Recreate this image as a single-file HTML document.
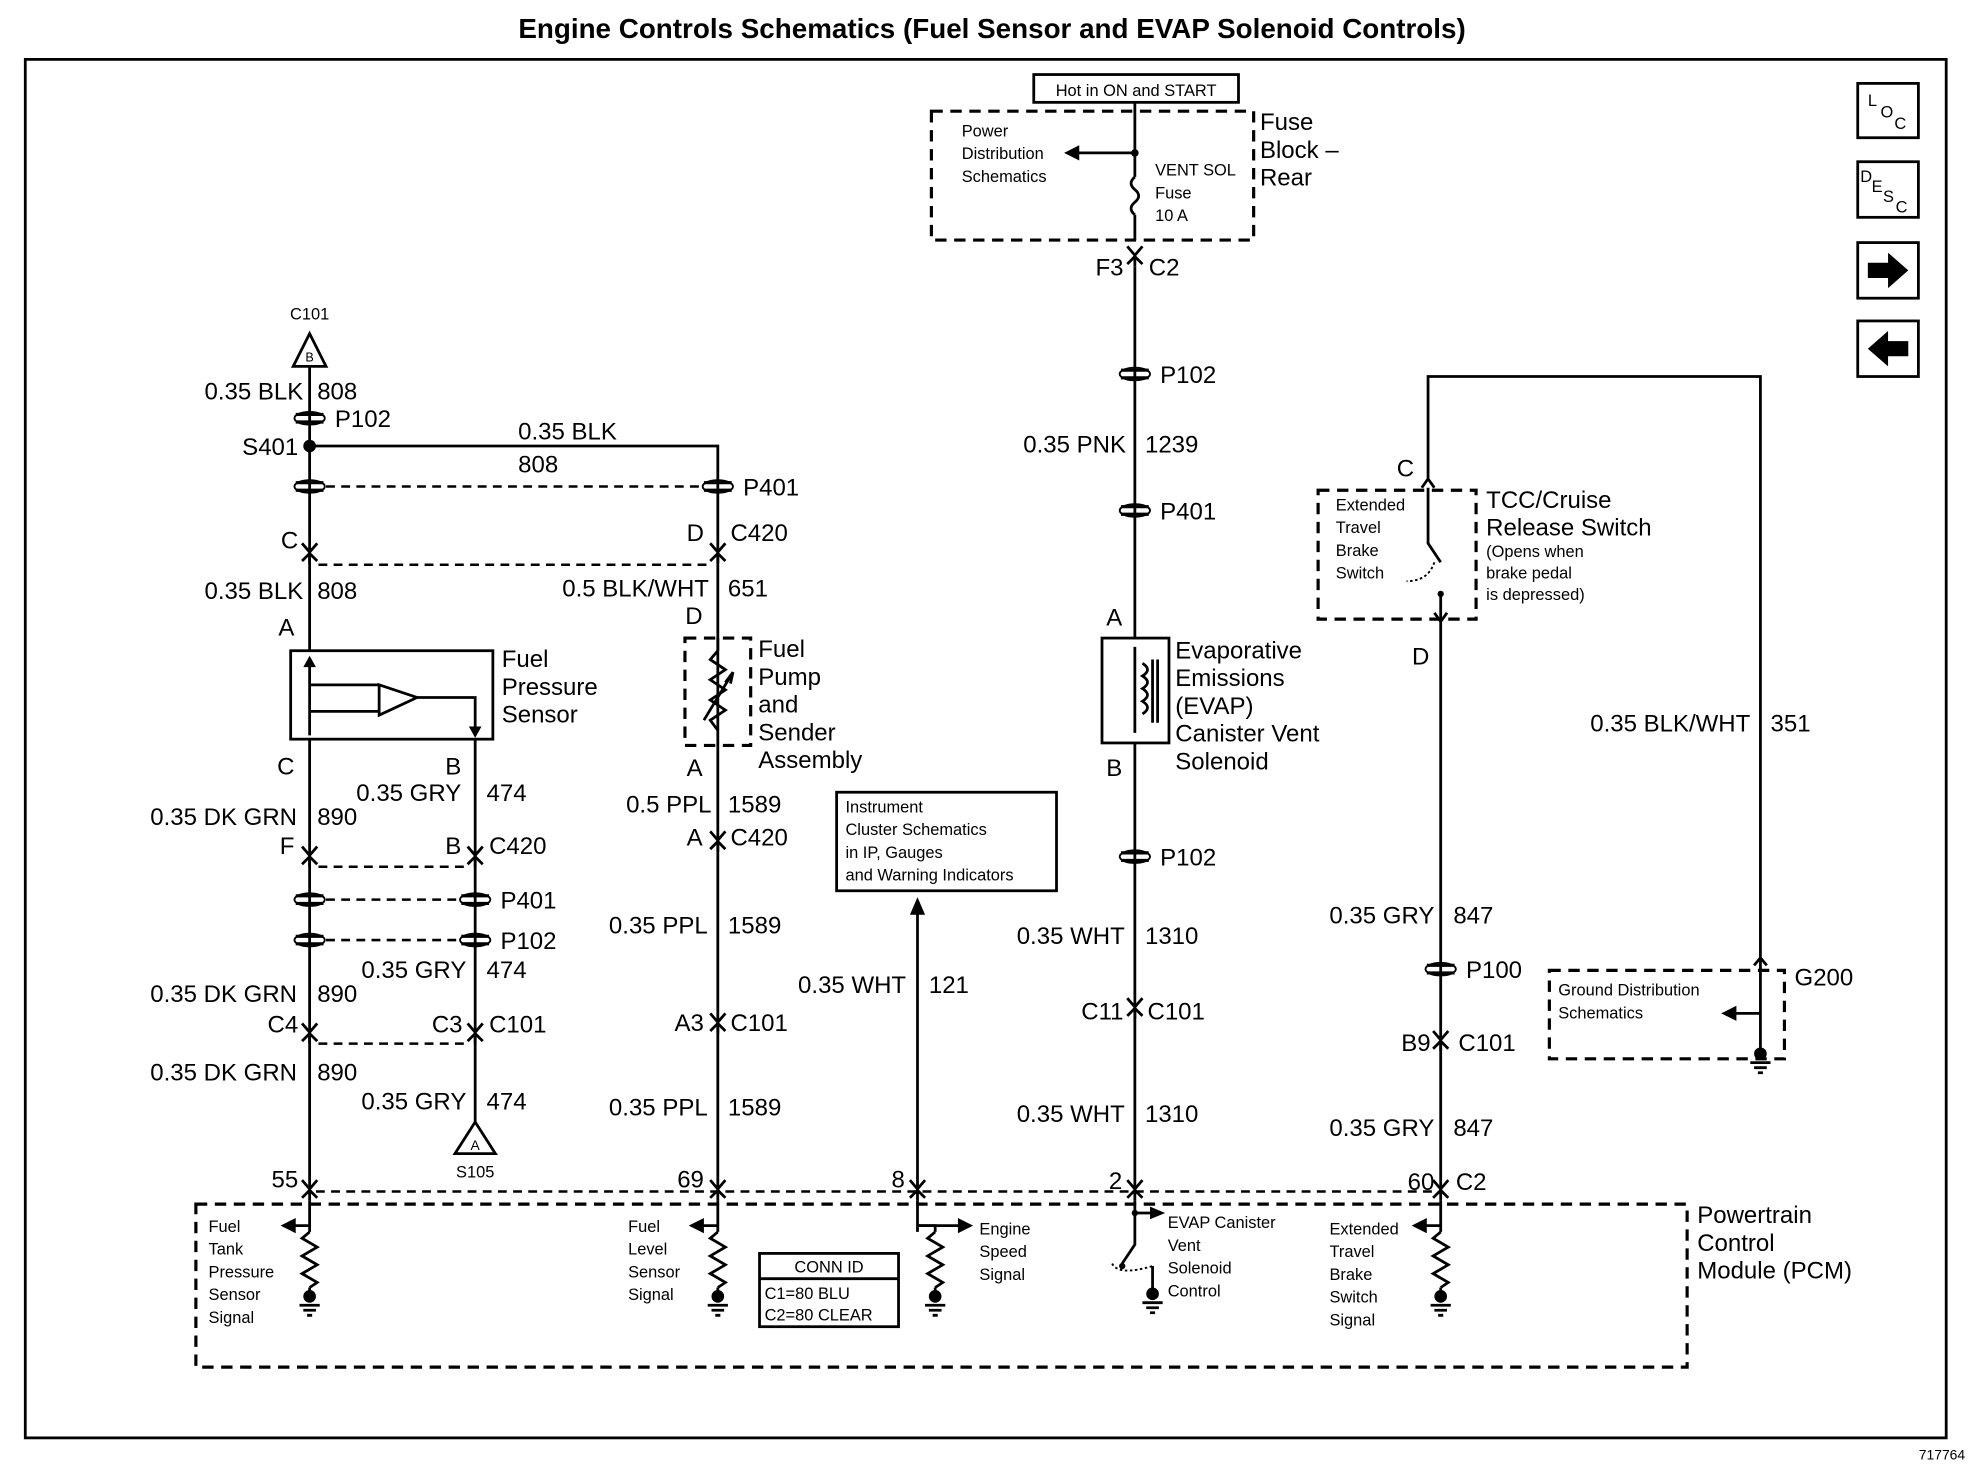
<!DOCTYPE html>
<html><head><meta charset="utf-8"><style>
html,body{margin:0;padding:0;background:#fff}
svg{display:block}
text{font-family:"Liberation Sans",Arial,sans-serif;fill:#000}
.t{font-size:19px}
.s{font-size:13px}
.w{stroke:#000;stroke-width:2.2;fill:none}
.d{stroke:#000;stroke-width:2;fill:none;stroke-dasharray:7 5}
.dd{stroke:#000;stroke-width:2.5;fill:none;stroke-dasharray:9 6}
</style></head><body>
<svg width="1974" height="1472" viewBox="0 0 1562 1165" preserveAspectRatio="none" xmlns="http://www.w3.org/2000/svg">
<defs>
<g id="cn"><path class="w" d="M-6,-10 L0,-3 L6,-10 M-6,4 L0,-2 L6,4 M0,-2 V6"/></g>
<g id="pc"><path stroke="#000" stroke-width="2.5" fill="none" d="M-11,-3 H11 M-11,3 H11"/><ellipse cx="0" cy="0" rx="12" ry="5" fill="none" stroke="#000" stroke-width="1.5"/></g>
<g id="gnd"><circle cx="0" cy="0" r="5" fill="#000"/><path class="w" d="M-8,7 H8 M-5,11 H5 M-2,15 H2"/></g>
<g id="res"><path class="w" d="M0,0 L-6,5 L6,12 L-6,19 L6,26 L-6,33 L6,40 L0,44"/></g>
</defs>
<text x="785" y="30" text-anchor="middle" style="font-size:22px;font-weight:bold">Engine Controls Schematics (Fuel Sensor and EVAP Solenoid Controls)</text>
<rect x="20" y="47" width="1520" height="1091" class="w"/>
<text x="1555" y="1155" text-anchor="end" style="font-size:11px">717764</text>
<!-- right icons -->
<rect x="1470" y="66" width="48" height="43" class="w"/><text x="1478" y="84" class="s">L</text><text x="1488" y="93" class="s">O</text><text x="1499" y="102" class="s">C</text>
<rect x="1470" y="128" width="48" height="44" class="w"/><text x="1472" y="144" class="s">D</text><text x="1481" y="152" class="s">E</text><text x="1490" y="160" class="s">S</text><text x="1500" y="168" class="s">C</text>
<rect x="1470" y="192" width="48" height="44" class="w"/><path d="M1478,208 H1494 V200 L1510,214 L1494,228 V220 H1478 Z" fill="#000"/>
<rect x="1470" y="254" width="48" height="44" class="w"/><path d="M1510,270 H1494 V262 L1478,276 L1494,290 V282 H1510 Z" fill="#000"/>
<!-- fuse block -->
<rect x="818" y="59" width="162" height="22" class="w"/><text x="899" y="76" text-anchor="middle" class="s">Hot in ON and START</text>
<rect x="737" y="88" width="255" height="102" class="dd"/>
<path class="w" d="M898,81 V140 M898,121 H852"/><path d="M842,121 L854,115 V127 Z" fill="#000"/><circle cx="898" cy="121" r="3" fill="#000"/>
<path class="w" d="M898,140 q-6,5 0,10 q6,5 0,10 q-6,5 0,10 M898,170 V190"/>
<text x="761" y="108" class="s">Power</text><text x="761" y="126" class="s">Distribution</text><text x="761" y="144" class="s">Schematics</text>
<text x="914" y="139" class="s">VENT SOL</text><text x="914" y="157" class="s">Fuse</text><text x="914" y="175" class="s">10 A</text>
<text x="997" y="103" class="t">Fuse</text><text x="997" y="125" class="t">Block –</text><text x="997" y="147" class="t">Rear</text>
<!-- EVAP column x=898 -->
<use href="#cn" x="898" y="205"/><text x="889" y="218" text-anchor="end" class="t">F3</text><text x="909" y="218" class="t">C2</text>
<path class="w" d="M898,211 V505 M898,588 V945"/>
<use href="#pc" x="898" y="296"/><text x="918" y="303" class="t">P102</text>
<text x="891" y="358" text-anchor="end" class="t">0.35 PNK</text><text x="906" y="358" class="t">1239</text>
<use href="#pc" x="898" y="404"/><text x="918" y="411" class="t">P401</text>
<text x="888" y="495" text-anchor="end" class="t">A</text>
<rect x="872" y="505" width="53" height="83" class="w"/>
<path class="w" d="M898,512 V580 M904,525 q8,5 0,10 q8,5 0,10 q8,5 0,10 q8,5 0,10 M912,522 V572 M916,522 V572"/>
<text x="930" y="521" class="t">Evaporative</text><text x="930" y="543" class="t">Emissions</text><text x="930" y="565" class="t">(EVAP)</text><text x="930" y="587" class="t">Canister Vent</text><text x="930" y="609" class="t">Solenoid</text>
<text x="888" y="614" text-anchor="end" class="t">B</text>
<use href="#pc" x="898" y="678"/><text x="918" y="685" class="t">P102</text>
<text x="890" y="747" text-anchor="end" class="t">0.35 WHT</text><text x="906" y="747" class="t">1310</text>
<use href="#cn" x="898" y="800"/><text x="889" y="807" text-anchor="end" class="t">C11</text><text x="908" y="807" class="t">C101</text>
<text x="890" y="888" text-anchor="end" class="t">0.35 WHT</text><text x="906" y="888" class="t">1310</text>
<text x="888" y="941" text-anchor="end" class="t">2</text>
<!-- left column x=245 -->
<path class="w" d="M245,290 L232,290 L245,264 L258,290 Z"/><text x="245" y="286" text-anchor="middle" style="font-size:10px">B</text>
<text x="245" y="253" text-anchor="middle" class="s">C101</text>
<path class="w" d="M245,290 V515 M245,585 V945"/>
<text x="240" y="316" text-anchor="end" class="t">0.35 BLK</text><text x="251" y="316" class="t">808</text>
<use href="#pc" x="245" y="331"/><text x="265" y="338" class="t">P102</text>
<circle cx="245" cy="353" r="5" fill="#000"/><text x="236" y="360" text-anchor="end" class="t">S401</text>
<path class="w" d="M245,353 H568 V515"/>
<text x="410" y="348" class="t">0.35 BLK</text><text x="410" y="374" class="t">808</text>
<use href="#pc" x="245" y="385"/><use href="#pc" x="568" y="385"/><path class="d" d="M258,385 H556"/><text x="588" y="392" class="t">P401</text>
<text x="236" y="434" text-anchor="end" class="t">C</text><text x="557" y="428" text-anchor="end" class="t">D</text><text x="578" y="428" class="t">C420</text>
<use href="#cn" x="245" y="440"/><use href="#cn" x="568" y="440"/><path class="d" d="M252,447 H561"/>
<text x="240" y="474" text-anchor="end" class="t">0.35 BLK</text><text x="251" y="474" class="t">808</text>
<text x="561" y="472" text-anchor="end" class="t">0.5 BLK/WHT</text><text x="576" y="472" class="t">651</text>
<text x="233" y="503" text-anchor="end" class="t">A</text><text x="556" y="494" text-anchor="end" class="t">D</text>
<!-- fuel pressure sensor -->
<rect x="230" y="515" width="160" height="70" class="w"/>
<path class="w" d="M245,522 V582 M245,542 H300 M245,563 H300 M300,542 V566 L330,552 Z M330,552 H376 V582 M376,582"/>
<path d="M240,528 L245,519 L250,528 Z M371,575 L376,584 L381,575 Z" fill="#000"/>
<text x="397" y="528" class="t">Fuel</text><text x="397" y="550" class="t">Pressure</text><text x="397" y="572" class="t">Sensor</text>
<text x="233" y="613" text-anchor="end" class="t">C</text><text x="365" y="613" text-anchor="end" class="t">B</text>
<path class="w" d="M376,585 V890"/>
<text x="365" y="634" text-anchor="end" class="t">0.35 GRY</text><text x="385" y="634" class="t">474</text>
<text x="235" y="653" text-anchor="end" class="t">0.35 DK GRN</text><text x="251" y="653" class="t">890</text>
<text x="233" y="676" text-anchor="end" class="t">F</text><text x="365" y="676" text-anchor="end" class="t">B</text><text x="387" y="676" class="t">C420</text>
<use href="#cn" x="245" y="680"/><use href="#cn" x="376" y="680"/><path class="d" d="M252,686 H369"/>
<use href="#pc" x="245" y="712"/><use href="#pc" x="376" y="712"/><path class="d" d="M258,712 H363"/><text x="396" y="719" class="t">P401</text>
<use href="#pc" x="245" y="744"/><use href="#pc" x="376" y="744"/><path class="d" d="M258,744 H363"/><text x="396" y="751" class="t">P102</text>
<text x="369" y="774" text-anchor="end" class="t">0.35 GRY</text><text x="385" y="774" class="t">474</text>
<text x="235" y="793" text-anchor="end" class="t">0.35 DK GRN</text><text x="251" y="793" class="t">890</text>
<text x="236" y="817" text-anchor="end" class="t">C4</text><text x="366" y="817" text-anchor="end" class="t">C3</text><text x="387" y="817" class="t">C101</text>
<use href="#cn" x="245" y="820"/><use href="#cn" x="376" y="820"/><path class="d" d="M252,826 H369"/>
<text x="235" y="855" text-anchor="end" class="t">0.35 DK GRN</text><text x="251" y="855" class="t">890</text>
<text x="369" y="878" text-anchor="end" class="t">0.35 GRY</text><text x="385" y="878" class="t">474</text>
<path class="w" d="M376,888 L360,913 L392,913 Z"/><text x="376" y="910" text-anchor="middle" style="font-size:11px">A</text>
<text x="376" y="932" text-anchor="middle" class="s">S105</text>
<text x="236" y="940" text-anchor="end" class="t">55</text>
<!-- fuel pump x=568 -->
<rect x="542" y="505" width="52" height="85" class="dd"/>
<path class="w" d="M568,505 V590 M557,570 L580,532 M574,540 L580,532 L578,541"/>
<path class="w" d="M568,515 L562,522 L574,530 L562,538 L574,546 L562,554 L574,562 L562,570 L568,578"/>
<text x="600" y="520" class="t">Fuel</text><text x="600" y="542" class="t">Pump</text><text x="600" y="564" class="t">and</text><text x="600" y="586" class="t">Sender</text><text x="600" y="608" class="t">Assembly</text>
<text x="556" y="614" text-anchor="end" class="t">A</text>
<path class="w" d="M568,590 V945"/>
<text x="563" y="643" text-anchor="end" class="t">0.5 PPL</text><text x="576" y="643" class="t">1589</text>
<use href="#cn" x="568" y="668"/><text x="556" y="669" text-anchor="end" class="t">A</text><text x="578" y="669" class="t">C420</text>
<text x="560" y="739" text-anchor="end" class="t">0.35 PPL</text><text x="576" y="739" class="t">1589</text>
<use href="#cn" x="568" y="812"/><text x="557" y="816" text-anchor="end" class="t">A3</text><text x="578" y="816" class="t">C101</text>
<text x="560" y="883" text-anchor="end" class="t">0.35 PPL</text><text x="576" y="883" class="t">1589</text>
<text x="557" y="940" text-anchor="end" class="t">69</text>
<!-- instrument x=726 -->
<rect x="662" y="627" width="174" height="78" class="w"/>
<text x="669" y="643" class="s">Instrument</text><text x="669" y="661" class="s">Cluster Schematics</text><text x="669" y="679" class="s">in IP, Gauges</text><text x="669" y="697" class="s">and Warning Indicators</text>
<path class="w" d="M726,722 V945"/><path d="M726,710 L720,724 H732 Z" fill="#000"/>
<text x="717" y="786" text-anchor="end" class="t">0.35 WHT</text><text x="735" y="786" class="t">121</text>
<text x="716" y="940" text-anchor="end" class="t">8</text>
<!-- right x=1140 -->
<path class="w" d="M1130,380 V298 H1393 V760"/>
<text x="1119" y="377" text-anchor="end" class="t">C</text>
<path class="w" d="M1125,386 L1130,379 L1135,386"/>
<rect x="1043" y="388" width="125" height="102" class="dd"/>
<text x="1057" y="404" class="s">Extended</text><text x="1057" y="422" class="s">Travel</text><text x="1057" y="440" class="s">Brake</text><text x="1057" y="458" class="s">Switch</text>
<path class="w" d="M1130,386 V430 L1140,445 M1140,470 V490"/><circle cx="1140" cy="470" r="2.5" fill="#000"/>
<path stroke="#000" stroke-width="1.5" stroke-dasharray="2 2" fill="none" d="M1135,445 q-5,15 -22,15"/>
<text x="1176" y="402" class="t">TCC/Cruise</text><text x="1176" y="424" class="t">Release Switch</text>
<text x="1176" y="441" class="s">(Opens when</text><text x="1176" y="458" class="s">brake pedal</text><text x="1176" y="475" class="s">is depressed)</text>
<path class="w" d="M1135,485 L1140,492 L1145,485 M1140,490 V945"/>
<text x="1131" y="526" text-anchor="end" class="t">D</text>
<text x="1385" y="579" text-anchor="end" class="t">0.35 BLK/WHT</text><text x="1401" y="579" class="t">351</text>
<text x="1135" y="731" text-anchor="end" class="t">0.35 GRY</text><text x="1150" y="731" class="t">847</text>
<use href="#pc" x="1140" y="767"/><text x="1160" y="774" class="t">P100</text>
<use href="#cn" x="1140" y="826"/><text x="1132" y="832" text-anchor="end" class="t">B9</text><text x="1154" y="832" class="t">C101</text>
<text x="1135" y="899" text-anchor="end" class="t">0.35 GRY</text><text x="1150" y="899" class="t">847</text>
<text x="1135" y="942" text-anchor="end" class="t">60</text><text x="1152" y="942" class="t">C2</text>
<!-- ground box -->
<rect x="1226" y="768" width="186" height="70" class="dd"/>
<path class="w" d="M1388,764 L1393,758 L1398,764 M1393,760 V832 M1393,802 H1372"/><path d="M1362,802 L1374,796 V808 Z" fill="#000"/>
<use href="#gnd" x="1393" y="834"/>
<text x="1233" y="788" class="s">Ground Distribution</text><text x="1233" y="806" class="s">Schematics</text>
<text x="1420" y="780" class="t">G200</text>
<!-- bottom connectors -->
<path class="d" d="M250,943 H1135"/>
<use href="#cn" x="245" y="944"/><use href="#cn" x="568" y="944"/><use href="#cn" x="726" y="944"/><use href="#cn" x="898" y="944"/><use href="#cn" x="1140" y="944"/>
<!-- PCM -->
<rect x="155" y="953" width="1180" height="129" class="dd"/>
<text x="1343" y="968" class="t">Powertrain</text><text x="1343" y="990" class="t">Control</text><text x="1343" y="1012" class="t">Module (PCM)</text>
<g>
<path class="w" d="M245,950 V975 M245,970 H232"/><path d="M222,970 L234,964 V976 Z" fill="#000"/><use href="#res" x="245" y="975"/><path class="w" d="M245,1019 V1024"/><use href="#gnd" x="245" y="1026"/>
<text x="165" y="975" class="s">Fuel</text><text x="165" y="993" class="s">Tank</text><text x="165" y="1011" class="s">Pressure</text><text x="165" y="1029" class="s">Sensor</text><text x="165" y="1047" class="s">Signal</text>
<path class="w" d="M568,950 V975 M568,970 H555"/><path d="M545,970 L557,964 V976 Z" fill="#000"/><use href="#res" x="568" y="975"/><path class="w" d="M568,1019 V1024"/><use href="#gnd" x="568" y="1026"/>
<text x="497" y="975" class="s">Fuel</text><text x="497" y="993" class="s">Level</text><text x="497" y="1011" class="s">Sensor</text><text x="497" y="1029" class="s">Signal</text>
<path class="w" d="M726,950 V975 M726,970 H760"/><path d="M770,970 L758,964 V976 Z" fill="#000"/><use href="#res" x="740" y="975"/><path class="w" d="M726,970 H740 V975 M740,1019 V1024"/><use href="#gnd" x="740" y="1026"/>
<text x="775" y="977" class="s">Engine</text><text x="775" y="995" class="s">Speed</text><text x="775" y="1013" class="s">Signal</text>
<path class="w" d="M898,950 V985 L888,1000 M912,1002 V1022"/><circle cx="898" cy="960" r="2.5" fill="#000"/><circle cx="888" cy="1002" r="2.5" fill="#000"/>
<path class="w" d="M898,960 H915"/><path d="M922,960 L910,955 V965 Z" fill="#000"/>
<path stroke="#000" stroke-width="1.5" stroke-dasharray="2 2" fill="none" d="M880,1000 q5,10 32,2"/><use href="#gnd" x="912" y="1024"/>
<text x="924" y="972" class="s">EVAP Canister</text><text x="924" y="990" class="s">Vent</text><text x="924" y="1008" class="s">Solenoid</text><text x="924" y="1026" class="s">Control</text>
<path class="w" d="M1140,950 V975 M1140,970 H1127"/><path d="M1117,970 L1129,964 V976 Z" fill="#000"/><use href="#res" x="1140" y="975"/><path class="w" d="M1140,1019 V1024"/><use href="#gnd" x="1140" y="1026"/>
<text x="1052" y="977" class="s">Extended</text><text x="1052" y="995" class="s">Travel</text><text x="1052" y="1013" class="s">Brake</text><text x="1052" y="1031" class="s">Switch</text><text x="1052" y="1049" class="s">Signal</text>
</g>
<rect x="601" y="992" width="110" height="58" class="w"/><path class="w" d="M601,1012 H711"/>
<text x="656" y="1007" text-anchor="middle" class="s">CONN ID</text><text x="605" y="1028" class="s">C1=80 BLU</text><text x="605" y="1045" class="s">C2=80 CLEAR</text>
</svg>
</body></html>
